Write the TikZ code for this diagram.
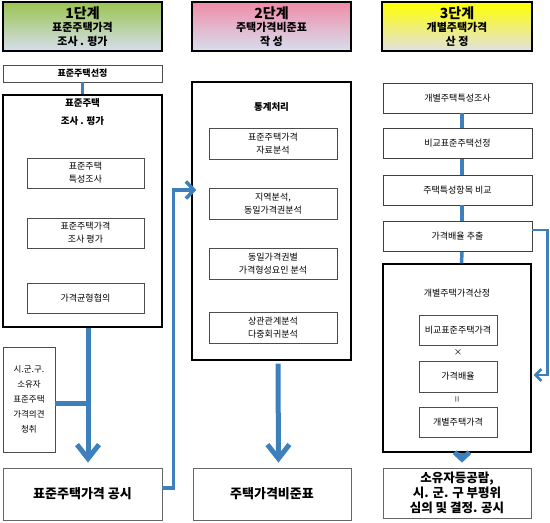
\documentclass[tikz,border=0pt]{standalone}
\usepackage{fontspec}
\setmainfont{Noto Sans CJK KR}
\usepackage{graphicx}
\usepackage{tikz}
\usetikzlibrary{arrows.meta}
\usepackage{xcolor}
\definecolor{flowblue}{RGB}{62,128,188}
\definecolor{stagegreen}{RGB}{155,196,80}
\definecolor{stagepink}{RGB}{240,140,168}
\definecolor{stageyellow}{RGB}{255,255,0}
\definecolor{stagepale}{RGB}{214,222,238}

\begin{document}
\begin{tikzpicture}[x=1pt, y=-1pt,
  stage/.style={draw=black, line width=1.6pt, minimum width=159pt, minimum height=49pt,
    inner sep=0pt, align=center, font=\fontsize{11}{13.5}\selectfont\bfseries},
  frame/.style={draw=black, line width=1.3pt, inner sep=0pt},
  task/.style={draw=black!70, line width=0.7pt, fill=white, inner sep=0pt, align=center,
    font=\fontsize{9}{13}\selectfont},
  step3/.style={draw=black!75, line width=0.9pt, minimum width=149pt, minimum height=30pt,
    inner sep=0pt, font=\fontsize{9}{13}\selectfont},
  result/.style={draw=black!60, line width=0.8pt, minimum height=52pt, inner sep=0pt,
    align=center, font=\fontsize{13}{15}\selectfont\bfseries},
  heading/.style={align=center, inner sep=0pt, font=\fontsize{9.5}{18}\selectfont\bfseries},
  flow/.style={flowblue, line width=5pt},
  link/.style={flowblue, line width=3.5pt},
  loop/.style={flowblue, line width=2.6pt, -{Straight Barb[length=6pt, width=12pt]}}
]
  \useasboundingbox (0,0) rectangle (550,523);

  \node[stage, top color=stagegreen, middle color=stagegreen!20, bottom color=stagepale] (stage1) at (82.5,26.5)
    {{\fontsize{14}{15}\selectfont 1단계}\\표준주택가격\\조사 . 평가};
  \node[stage, top color=stagepink, middle color=stagepink!35, bottom color=stagepale] (stage2) at (271.5,26.5)
    {{\fontsize{14}{15}\selectfont 2단계}\\주택가격비준표\\작 성};
  \node[stage, minimum width=150pt, top color=stageyellow, middle color=stageyellow!45, bottom color=black!12] (stage3) at (457,26.5)
    {{\fontsize{14}{15}\selectfont 3단계}\\개별주택가격\\산 정};

  \node[task, line width=0.9pt, minimum width=159pt, minimum height=17pt, font=\fontsize{9}{10}\selectfont\bfseries] (select1) at (82.5,73.5) {표준주택선정};
  \node[frame, minimum width=159pt, minimum height=232pt] (frame1) at (82.5,211) {};
  \node[heading] (title1) at (82.5,112) {표준주택\\조사 . 평가};
  \node[task, minimum width=117pt, minimum height=30pt] (survey1) at (85.5,173) {표준주택\\특성조사};
  \node[task, minimum width=117pt, minimum height=30pt] (appraise1) at (85.5,233) {표준주택가격\\조사 평가};
  \node[task, minimum width=117pt, minimum height=30pt] (balance1) at (85.5,298) {가격균형협의};
  \node[task, minimum width=52pt, minimum height=105pt, font=\fontsize{8.5}{15}\selectfont] (hearing1) at (29,399.5)
    {시.군.구.\\소유자\\표준주택\\가격의견\\청취};
  \node[result, minimum width=159pt] (notice1) at (82.5,494) {표준주택가격 공시};

  \node[frame, minimum width=159pt, minimum height=278pt] (frame2) at (271.5,221) {};
  \node[heading] (title2) at (271.5,107) {통계처리};
  \node[task, minimum width=128pt, minimum height=31pt] (data2) at (273,143.5) {표준주택가격\\자료분석};
  \node[task, minimum width=128pt, minimum height=31pt] (region2) at (273,203.5) {지역분석,\\동일가격권분석};
  \node[task, minimum width=128pt, minimum height=31pt] (factor2) at (273,264) {동일가격권별\\가격형성요인 분석};
  \node[task, minimum width=128pt, minimum height=31pt] (regress2) at (273,328) {상관관계분석\\다중회귀분석};
  \node[result, minimum width=158pt] (table2) at (272,494) {주택가격비준표};

  \node[step3] (survey3) at (457.5,98) {개별주택특성조사};
  \node[step3] (compare3) at (457.5,143.5) {비교표준주택선정};
  \node[step3] (items3) at (457.5,190) {주택특성항목 비교};
  \node[step3] (ratio3) at (457.5,236.5) {가격배율 추출};
  \node[frame, minimum width=148pt, minimum height=188pt] (frame3) at (457,358) {};
  \node[heading, font=\fontsize{9}{13}\selectfont] (title3) at (457,293) {개별주택가격산정};
  \node[task, minimum width=78pt, minimum height=30pt] (base3) at (458,330) {비교표준주택가격};
  \node[inner sep=0pt, font=\fontsize{8.5}{10}\selectfont] (times3) at (458,353) {×};
  \node[task, minimum width=78pt, minimum height=31pt] (mult3) at (458,376.5) {가격배율};
  \node[inner sep=0pt, text=black!45, font=\fontsize{10}{10}\selectfont\bfseries] (equal3) at (458,399) {\rotatebox{90}{=}};
  \node[task, minimum width=78pt, minimum height=30pt] (price3) at (458,422) {개별주택가격};
  \node[result, minimum width=148pt, minimum height=50pt, font=\fontsize{12.5}{15}\selectfont\bfseries] (final3) at (457,493)
    {소유자등공람,\\시. 군. 구 부평위\\심의 및 결정. 공시};

  \path (frame1.south |- hearing1.east) ++(5.5,3.5) coordinate (join1);

  \draw[link] (select1) -- (frame1);
  \draw[flow, -{Straight Barb[length=14pt, width=22pt]}] ([xshift=5.5pt]frame1.south) -- ([xshift=5.5pt, yshift=5pt]notice1.north);
  \draw[flow] ([yshift=-3.5pt]hearing1.east) -- (join1);
  \draw[link, -{Straight Barb[length=8pt, width=17pt]}] ([yshift=6pt]notice1.east) -- ++(11,0) |- ([xshift=5pt, yshift=31pt]frame2.west);
  \draw[flow, -{Straight Barb[length=14pt, width=22pt]}] ([xshift=6.5pt, yshift=-3pt]frame2.south) -- ([xshift=6.5pt, yshift=5pt]table2.north);
  \draw[link] ([xshift=4.5pt]survey3.south) -- ([xshift=4.5pt]compare3.north);
  \draw[link] ([xshift=4.5pt]compare3.south) -- ([xshift=4.5pt]items3.north);
  \draw[link] ([xshift=4.5pt]items3.south) -- ([xshift=4.5pt]ratio3.north);
  \draw[link] ([xshift=4.5pt]ratio3.south) -- ([xshift=4.5pt]frame3.north);
  \draw[flow, -{Straight Barb[length=7pt, width=15pt]}] ([xshift=5pt]frame3.south) -- ([xshift=5pt, yshift=5pt]final3.north);
  \draw[loop] ([yshift=6.5pt]ratio3.east) -- ++(15,0) |- ([xshift=2pt, yshift=-17pt]frame3.east);
\end{tikzpicture}
\end{document}
